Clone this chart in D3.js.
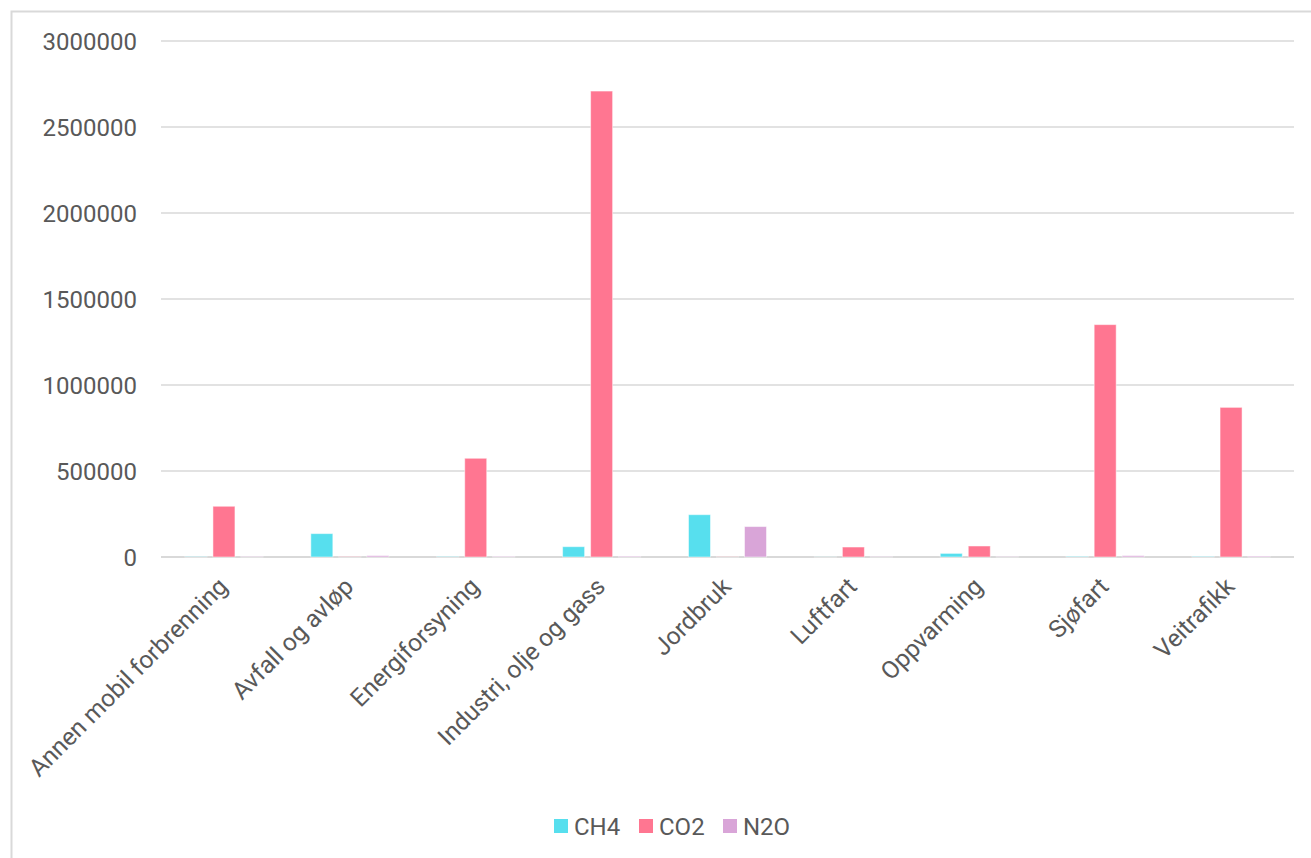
<!DOCTYPE html>
<meta charset="utf-8">
<style>
  body { margin: 0; background: #fff; }
  text { font-family: Roboto, "Noto Sans", sans-serif; fill: #595959; }
  .axis text { font-size: 24px; }
  .xlab text { font-size: 24.5px; }
  .legend text { font-size: 24px; }
</style>
<svg width="1311" height="858"></svg>
<script src="https://d3js.org/d3.v7.min.js"></script>
<script>

var categories = ["Annen mobil forbrenning", "Avfall og avløp", "Energiforsyning", "Industri, olje og gass",
  "Jordbruk", "Luftfart", "Oppvarming", "Sjøfart", "Veitrafikk"];
var series = ["CH4", "CO2", "N2O"];
var ch4 = [1500, 136000, 2000, 60000, 246000, 500, 21000, 3000, 2500];
var co2 = [295000, 1500, 574000, 2709000, 1000, 58000, 64000, 1351000, 870000];
var n2o = [2000, 8000, 3000, 4000, 177000, 1500, 1500, 8000, 5000];
var yTicks = [0, 500000, 1000000, 1500000, 2000000, 2500000, 3000000];
var colors = ["#57dfee", "#ff7691", "#d9a5d8"];

var values = { CH4: ch4, CO2: co2, N2O: n2o };

var svg = d3.select("svg"),
  plotLeft = 161, plotRight = 1294, plotTop = 41, plotBottom = 557;

svg.append("rect")
  .attr("x", 11.5).attr("y", 11.5)
  .attr("width", 1320).attr("height", 870)
  .attr("fill", "none").attr("stroke", "#d9d9d9").attr("stroke-width", 2);

var x0 = d3.scaleBand().domain(categories).range([plotLeft, plotRight]);
var x1 = d3.scaleBand().domain(series).range([0, x0.bandwidth()])
  .paddingInner(0.214).paddingOuter(0.855);
var y = d3.scaleLinear().domain([0, 3000000]).range([plotBottom, plotTop]);

// grid
svg.append("g").selectAll("line")
  .data(yTicks)
  .enter().append("line")
  .attr("x1", plotLeft).attr("x2", plotRight)
  .attr("y1", function(d) { return y(d); })
  .attr("y2", function(d) { return y(d); })
  .attr("stroke", "#d9d9d9")
  .attr("stroke-width", function(d) { return d === 0 ? 2 : 1.5; });

// y labels
svg.append("g").attr("class", "axis").selectAll("text")
  .data(yTicks)
  .enter().append("text")
  .attr("x", 137)
  .attr("y", function(d) { return y(d); })
  .attr("dy", "0.36em")
  .attr("text-anchor", "end")
  .text(function(d) { return d; });

// bars
var group = svg.append("g").selectAll("g")
  .data(categories)
  .enter().append("g")
  .attr("transform", function(d) { return "translate(" + x0(d) + ",0)"; });

group.selectAll("rect")
  .data(function(d, i) { return series.map(function(s, j) { return { s: s, v: values[s][i], c: colors[j] }; }); })
  .enter().append("rect")
  .attr("x", function(d) { return x1(d.s); })
  .attr("width", x1.bandwidth())
  .attr("y", function(d) { return y(d.v); })
  .attr("height", function(d) { return y(0) - y(d.v); })
  .attr("fill", function(d) { return d.c; })
  .attr("stroke", "#fff")
  .attr("stroke-opacity", 0.5)
  .attr("stroke-width", 1);

// x labels
svg.append("g").attr("class", "xlab").selectAll("text")
  .data(categories)
  .enter().append("text")
  .attr("transform", function(d) {
    return "translate(" + (x0(d) + x0.bandwidth() / 2 - 1) + "," + (plotBottom + 25) + ") rotate(-45)";
  })
  .attr("dy", "0.35em")
  .attr("text-anchor", "end")
  .text(function(d) { return d; });

// legend
var legend = svg.append("g").attr("class", "legend")
  .attr("transform", "translate(554,826)");
var lx = [0, 85, 169];
var item = legend.selectAll("g")
  .data(series)
  .enter().append("g")
  .attr("transform", function(d, i) { return "translate(" + lx[i] + ",0)"; });
item.append("rect")
  .attr("x", 0).attr("y", -7)
  .attr("width", 14).attr("height", 14)
  .attr("fill", function(d, i) { return colors[i]; });
item.append("text")
  .attr("x", 20).attr("dy", "0.36em")
  .text(function(d) { return d; });

</script>
